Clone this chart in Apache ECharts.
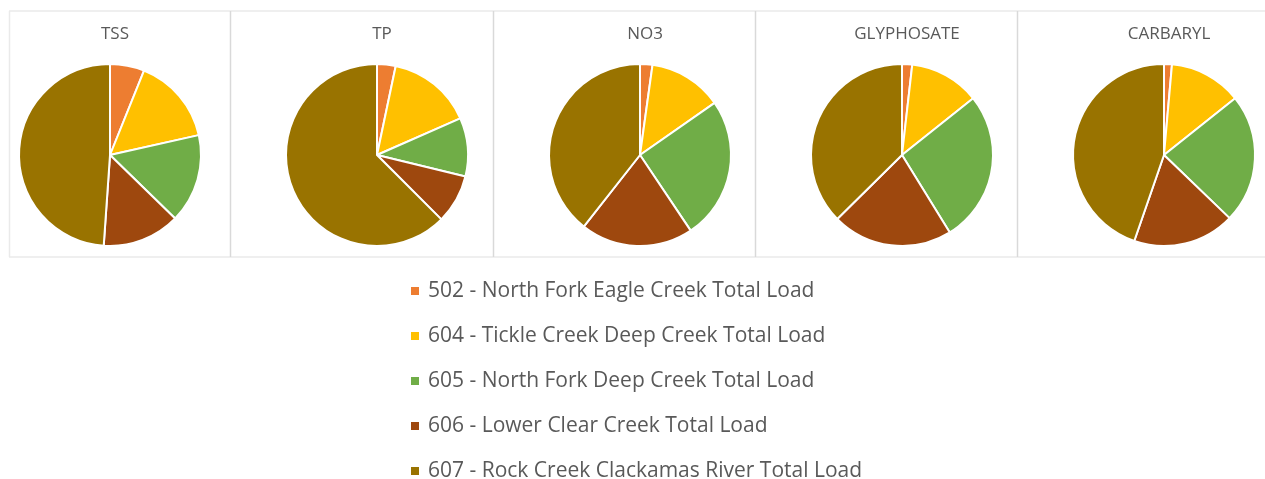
<!DOCTYPE html>
<html>
<head>
<meta charset="utf-8">
<script src="https://cdn.jsdelivr.net/npm/echarts@6/dist/echarts.min.js"></script>
<style>
  html, body { margin: 0; padding: 0; background: #ffffff; }
  #chart { width: 1265px; height: 479px; }
</style>
</head>
<body>
<div id="chart"></div>
<script>
// Sampling sites (legend entries)
const sites = [
  '502 - North Fork Eagle Creek Total Load',
  '604 - Tickle Creek Deep Creek Total Load',
  '605 - North Fork Deep Creek Total Load',
  '606 - Lower Clear Creek Total Load',
  '607 - Rock Creek Clackamas River Total Load'
];

// Share of total load (%) per site, one array per constituent
const tss        = [6.1, 15.4, 15.8, 13.8, 48.9];
const tp         = [3.3, 15.1, 10.4, 8.7, 62.5];
const no3        = [2.2, 13.1, 25.3, 20.0, 39.4];
const glyphosate = [1.8, 12.5, 26.9, 21.4, 37.4];
const carbaryl   = [1.4, 12.9, 22.9, 18.1, 44.7];

const panelTitles = ['TSS', 'TP', 'NO3', 'GLYPHOSATE', 'CARBARYL'];
const panelValues = [tss, tp, no3, glyphosate, carbaryl];

const siteColors = ['#ED7D31', '#FFC000', '#70AD47', '#9E480E', '#997300'];

// Panel layout (pixels)
const panelEdges = [9, 230, 493, 755, 1017, 1265];
const pieCentersX = [110, 377, 640, 902, 1164];
const pieCenterY = 155;
const pieRadius = 91;
const textColor = '#595959';
const fontFamily = '"Segoe UI", "Open Sans", "Noto Sans", sans-serif';

const chart = echarts.init(document.getElementById('chart'), null, { renderer: 'canvas' });

const series = panelTitles.map((t, i) => ({
  name: t,
  type: 'pie',
  center: [pieCentersX[i], pieCenterY],
  radius: [0, pieRadius],
  startAngle: 90,
  clockwise: true,
  avoidLabelOverlap: false,
  label: { show: false },
  labelLine: { show: false },
  emphasis: { disabled: true },
  animation: false,
  itemStyle: { borderColor: '#ffffff', borderWidth: 2 },
  data: sites.map((s, k) => ({ name: s, value: panelValues[i][k] }))
}));

const titles = panelTitles.map((t, i) => ({
  text: t,
  left: pieCentersX[i],
  top: 21,
  textAlign: 'center',
  textStyle: { color: textColor, fontSize: 17, fontWeight: 'normal', fontFamily: fontFamily }
}));

// Panel frame lines
const frame = [];
const lineTop = 11, lineBottom = 257;
frame.push({ type: 'line', shape: { x1: panelEdges[0], y1: lineTop, x2: 1265, y2: lineTop },
             style: { stroke: '#EAEAEA', lineWidth: 1.5 }, silent: true, z: -1 });
frame.push({ type: 'line', shape: { x1: panelEdges[0], y1: lineBottom, x2: 1265, y2: lineBottom },
             style: { stroke: '#EAEAEA', lineWidth: 1.5 }, silent: true, z: -1 });
for (let i = 0; i < panelEdges.length - 1; i++) {
  frame.push({ type: 'line', shape: { x1: panelEdges[i] + 0.5, y1: lineTop, x2: panelEdges[i] + 0.5, y2: lineBottom },
               style: { stroke: i === 0 ? '#EAEAEA' : '#D9D9D9', lineWidth: 1.5 }, silent: true, z: -1 });
}

chart.setOption({
  backgroundColor: '#ffffff',
  color: siteColors,
  animation: false,
  title: titles,
  legend: {
    data: sites,
    orient: 'vertical',
    left: 409,
    top: 279,
    height: 240,
    padding: 0,
    icon: 'rect',
    itemWidth: 10,
    itemHeight: 10,
    itemGap: 21,
    selectedMode: false,
    textStyle: { color: textColor, fontSize: 21, lineHeight: 24, fontFamily: fontFamily, padding: [0, 0, 0, 3] }
  },
  graphic: frame,
  series: series
});
</script>
</body>
</html>
